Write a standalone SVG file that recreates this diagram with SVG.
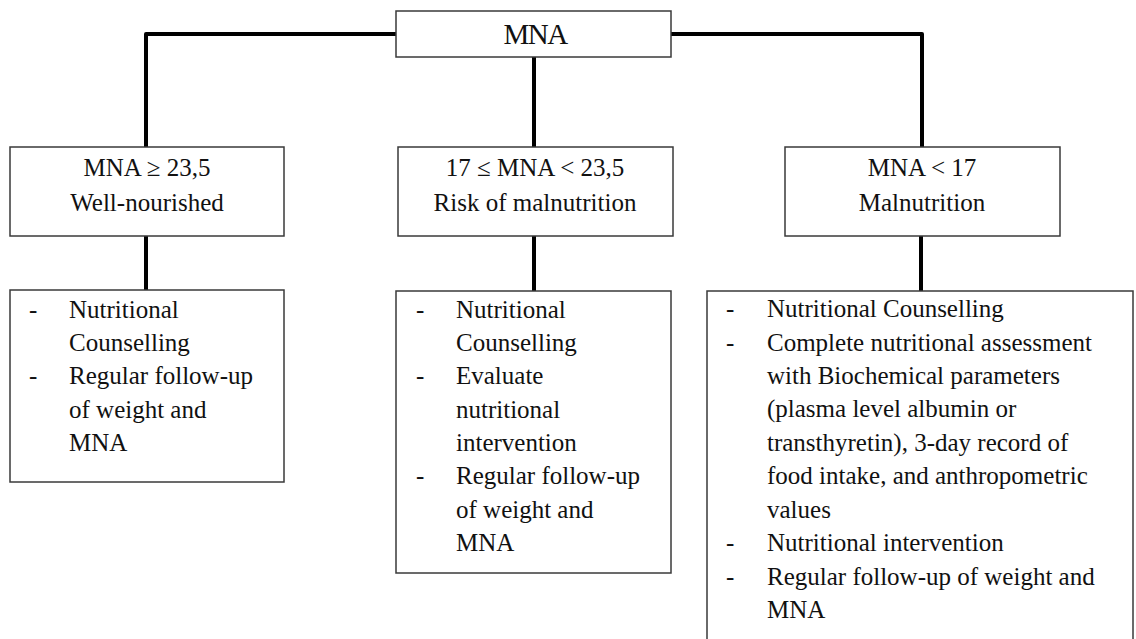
<svg xmlns="http://www.w3.org/2000/svg" width="1136" height="639" viewBox="0 0 1136 639" font-family="Liberation Serif">
<style>
.box{fill:#fff;stroke:#3a3a3a;stroke-width:1.5}
.conn{fill:none;stroke:#000;stroke-width:4;stroke-linejoin:round}
svg text{font-family:'Liberation Serif',serif !important;font-size:25px;fill:#111}
.c{text-anchor:middle}
svg text.title{font-size:29px;letter-spacing:-1.5px}
</style>
<rect width="1136" height="639" fill="#fff"/>
<g id="connectors">
<path class="conn" d="M396 34 H146 V147"/>
<path class="conn" d="M671 34 H922 V147"/>
<path class="conn" d="M534 57 V147"/>
<path class="conn" d="M146 236 V291"/>
<path class="conn" d="M534 236 V291"/>
<path class="conn" d="M921 236 V291"/>
</g>
<g id="mna">
<rect class="box" x="396" y="11" width="275" height="46"/>
<text class="c title" x="535" y="44">MNA</text>
</g>
<g id="well">
<rect class="box" x="10" y="147" width="274" height="89"/>
<text class="c" x="147" y="176">MNA ≥ 23,5</text>
<text class="c" x="147" y="211">Well-nourished</text>
</g>
<g id="risk">
<rect class="box" x="398" y="147" width="275" height="89"/>
<text class="c" x="535" y="176">17 ≤ MNA &lt; 23,5</text>
<text class="c" x="535" y="211">Risk of malnutrition</text>
</g>
<g id="mal">
<rect class="box" x="785" y="147" width="275" height="89"/>
<text class="c" x="922" y="176">MNA &lt; 17</text>
<text class="c" x="922" y="211">Malnutrition</text>
</g>
<g id="well-actions">
<rect class="box" x="10" y="290" width="274" height="192"/>
<text x="29" y="318">-</text><text x="69" y="318">Nutritional</text>
<text x="69" y="351">Counselling</text>
<text x="29" y="384">-</text><text x="69" y="384">Regular follow-up</text>
<text x="69" y="418">of weight and</text>
<text x="69" y="451">MNA</text>
</g>
<g id="risk-actions">
<rect class="box" x="396" y="291" width="275" height="282"/>
<text x="416" y="318">-</text><text x="456" y="318">Nutritional</text>
<text x="456" y="351">Counselling</text>
<text x="416" y="384">-</text><text x="456" y="384">Evaluate</text>
<text x="456" y="418">nutritional</text>
<text x="456" y="451">intervention</text>
<text x="416" y="484">-</text><text x="456" y="484">Regular follow-up</text>
<text x="456" y="518">of weight and</text>
<text x="456" y="551">MNA</text>
</g>
<g id="mal-actions">
<rect class="box" x="707" y="291" width="426" height="360"/>
<text x="726" y="317">-</text><text x="767" y="317">Nutritional Counselling</text>
<text x="726" y="351">-</text><text x="767" y="351">Complete nutritional assessment</text>
<text x="767" y="384">with Biochemical parameters</text>
<text x="767" y="417">(plasma level albumin or</text>
<text x="767" y="451">transthyretin), 3-day record of</text>
<text x="767" y="484">food intake, and anthropometric</text>
<text x="767" y="518">values</text>
<text x="726" y="551">-</text><text x="767" y="551">Nutritional intervention</text>
<text x="726" y="585">-</text><text x="767" y="585">Regular follow-up of weight and</text>
<text x="767" y="618">MNA</text>
</g>
</svg>
